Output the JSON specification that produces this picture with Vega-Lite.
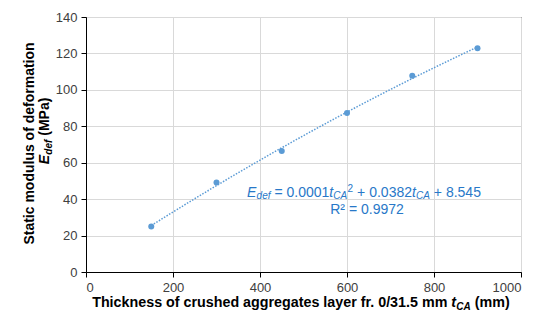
{
  "$schema": "https://vega.github.io/schema/vega-lite/v6.json",
  "autosize": "none",
  "width": 435,
  "height": 255,
  "padding": {"left": 86, "top": 17, "right": 29, "bottom": 59},
  "background": "white",
  "config": {
    "font": "Liberation Sans",
    "view": {"stroke": "black", "strokeWidth": 1},
    "axis": {
      "labelFont": "Liberation Sans",
      "labelFontSize": 13,
      "labelColor": "#404040",
      "labelOverlap": false,
      "titleFont": "Liberation Sans",
      "titleFontSize": 14,
      "titleFontWeight": "bold",
      "titleColor": "black",
      "domainColor": "black",
      "tickColor": "black",
      "tickSize": 5,
      "gridColor": "#D9D9D9",
      "gridWidth": 1
    },
    "axisY": {"tickCount": 12},
    "axisX": {"tickCount": 12}
  },
  "data": {
    "values": [
      {"t": 150, "E": 25.0},
      {"t": 300, "E": 49.2},
      {"t": 450, "E": 66.5},
      {"t": 600, "E": 87.3},
      {"t": 750, "E": 107.8},
      {"t": 900, "E": 122.9}
    ]
  },
  "layer": [
    {
      "transform": [
        {"regression": "E", "on": "t", "method": "poly", "order": 2, "extent": [150, 900]}
      ],
      "mark": {"type": "line", "color": "#5B9BD5", "strokeWidth": 1.5, "strokeDash": [1.5, 1.5]},
      "encoding": {
        "x": {"field": "t", "type": "quantitative", "scale": {"domain": [0, 1000]},
          "axis": {"values": [0, 200, 400, 600, 800, 1000], "tickCount": 12, "format": "d", "title": null, "labelPadding": 4}},
        "y": {"field": "E", "type": "quantitative", "scale": {"domain": [0, 140]},
          "axis": {"values": [0, 20, 40, 60, 80, 100, 120, 140], "tickCount": 12, "format": "d", "title": "Static modulus of deformation",
            "titleX": -52.5, "titleY": 126, "titleAlign": "center", "titleAngle": 270, "titleBaseline": "alphabetic", "labelPadding": 4}}
      }
    },
    {
      "mark": {"type": "circle", "color": "#5B9BD5", "size": 36, "opacity": 1},
      "encoding": {
        "x": {"field": "t", "type": "quantitative"},
        "y": {"field": "E", "type": "quantitative"}
      }
    },
    {
      "data": {"values": [{}]},
      "mark": {"type": "text", "text": "E", "font": "Liberation Sans", "fontSize": 14, "fontStyle": "italic", "color": "#2878C8", "align": "left", "baseline": "alphabetic", "dx": 0},
      "encoding": {"x": {"datum": 370.4}, "y": {"datum": 41.2}}
    },
    {
      "data": {"values": [{}]},
      "mark": {"type": "text", "text": "def", "font": "Liberation Sans", "fontSize": 10, "fontStyle": "italic", "color": "#2878C8", "align": "left", "baseline": "alphabetic", "dx": 9.5, "dy": 2.5},
      "encoding": {"x": {"datum": 370.4}, "y": {"datum": 41.2}}
    },
    {
      "data": {"values": [{}]},
      "mark": {"type": "text", "text": "= 0.0001", "font": "Liberation Sans", "fontSize": 14, "color": "#2878C8", "align": "left", "baseline": "alphabetic", "dx": 27.3},
      "encoding": {"x": {"datum": 370.4}, "y": {"datum": 41.2}}
    },
    {
      "data": {"values": [{}]},
      "mark": {"type": "text", "text": "t", "font": "Liberation Sans", "fontSize": 14, "fontStyle": "italic", "color": "#2878C8", "align": "left", "baseline": "alphabetic", "dx": 82.2},
      "encoding": {"x": {"datum": 370.4}, "y": {"datum": 41.2}}
    },
    {
      "data": {"values": [{}]},
      "mark": {"type": "text", "text": "CA", "font": "Liberation Sans", "fontSize": 10, "fontStyle": "italic", "color": "#2878C8", "align": "left", "baseline": "alphabetic", "dx": 86.1, "dy": 2.5},
      "encoding": {"x": {"datum": 370.4}, "y": {"datum": 41.2}}
    },
    {
      "data": {"values": [{}]},
      "mark": {"type": "text", "text": "2", "font": "Liberation Sans", "fontSize": 10, "color": "#2878C8", "align": "left", "baseline": "alphabetic", "dx": 100.5, "dy": -5},
      "encoding": {"x": {"datum": 370.4}, "y": {"datum": 41.2}}
    },
    {
      "data": {"values": [{}]},
      "mark": {"type": "text", "text": "+ 0.0382", "font": "Liberation Sans", "fontSize": 14, "color": "#2878C8", "align": "left", "baseline": "alphabetic", "dx": 110},
      "encoding": {"x": {"datum": 370.4}, "y": {"datum": 41.2}}
    },
    {
      "data": {"values": [{}]},
      "mark": {"type": "text", "text": "t", "font": "Liberation Sans", "fontSize": 14, "fontStyle": "italic", "color": "#2878C8", "align": "left", "baseline": "alphabetic", "dx": 165},
      "encoding": {"x": {"datum": 370.4}, "y": {"datum": 41.2}}
    },
    {
      "data": {"values": [{}]},
      "mark": {"type": "text", "text": "CA", "font": "Liberation Sans", "fontSize": 10, "fontStyle": "italic", "color": "#2878C8", "align": "left", "baseline": "alphabetic", "dx": 168.9, "dy": 2.5},
      "encoding": {"x": {"datum": 370.4}, "y": {"datum": 41.2}}
    },
    {
      "data": {"values": [{}]},
      "mark": {"type": "text", "text": "+ 8.545", "font": "Liberation Sans", "fontSize": 14, "color": "#2878C8", "align": "left", "baseline": "alphabetic", "dx": 186.7},
      "encoding": {"x": {"datum": 370.4}, "y": {"datum": 41.2}}
    },
    {
      "data": {"values": [{}]},
      "mark": {"type": "text", "text": "R² = 0.9972", "font": "Liberation Sans", "fontSize": 14, "color": "#2878C8", "align": "center", "baseline": "alphabetic"},
      "encoding": {"x": {"datum": 646}, "y": {"datum": 32.0}}
    },
    {
      "data": {"values": [{}]},
      "mark": {"type": "text", "text": "Thickness of crushed aggregates layer fr. 0/31.5 mm", "font": "Liberation Sans", "fontSize": 14.3, "fontWeight": "bold", "color": "black", "align": "right", "baseline": "alphabetic"},
      "encoding": {"x": {"datum": 830.7}, "y": {"datum": -19.2}}
    },
    {
      "data": {"values": [{}]},
      "mark": {"type": "text", "text": "t", "font": "Liberation Sans", "fontSize": 14.3, "fontWeight": "bold", "fontStyle": "italic", "color": "black", "align": "left", "baseline": "alphabetic", "dx": 4},
      "encoding": {"x": {"datum": 830.7}, "y": {"datum": -19.2}}
    },
    {
      "data": {"values": [{}]},
      "mark": {"type": "text", "text": "CA", "font": "Liberation Sans", "fontSize": 10, "fontWeight": "bold", "fontStyle": "italic", "color": "black", "align": "left", "baseline": "alphabetic", "dx": 8.8, "dy": 3},
      "encoding": {"x": {"datum": 830.7}, "y": {"datum": -19.2}}
    },
    {
      "data": {"values": [{}]},
      "mark": {"type": "text", "text": "(mm)", "font": "Liberation Sans", "fontSize": 14.3, "fontWeight": "bold", "color": "black", "align": "left", "baseline": "alphabetic", "dx": 27.5},
      "encoding": {"x": {"datum": 830.7}, "y": {"datum": -19.2}}
    },
    {
      "data": {"values": [{}]},
      "mark": {"type": "text", "text": "E", "font": "Liberation Sans", "fontSize": 14, "fontWeight": "bold", "fontStyle": "italic", "color": "black", "align": "left", "baseline": "alphabetic", "angle": 270},
      "encoding": {"x": {"datum": -85.1}, "y": {"datum": 59.2}}
    },
    {
      "data": {"values": [{}]},
      "mark": {"type": "text", "text": "def", "font": "Liberation Sans", "fontSize": 10, "fontWeight": "bold", "fontStyle": "italic", "color": "black", "align": "left", "baseline": "alphabetic", "angle": 270, "dx": 9.5, "dy": 3},
      "encoding": {"x": {"datum": -85.1}, "y": {"datum": 59.2}}
    },
    {
      "data": {"values": [{}]},
      "mark": {"type": "text", "text": "(MPa)", "font": "Liberation Sans", "fontSize": 14, "fontWeight": "bold", "color": "black", "align": "left", "baseline": "alphabetic", "angle": 270, "dx": 28.4},
      "encoding": {"x": {"datum": -85.1}, "y": {"datum": 59.2}}
    }
  ]
}
